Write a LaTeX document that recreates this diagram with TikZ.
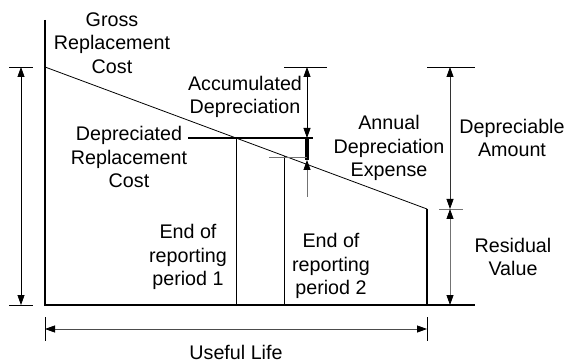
\documentclass[tikz,border=0pt]{standalone}
\usepackage{fontspec}
\setmainfont{Liberation Sans}
\usetikzlibrary{arrows.meta}
\begin{document}
\begin{tikzpicture}[x=1pt,y=-1pt,
  lbl/.style={align=center, font=\fontsize{19.7}{23.5}\selectfont, inner sep=0pt},
  axis/.style={line width=1.8pt},
  thin/.style={line width=0.8pt},
  dimline/.style={line width=0.8pt, {Triangle[length=10pt,width=7pt,color=black]}-{Triangle[length=10pt,width=7pt,color=black]}},
  onehead/.style={line width=0.8pt, -{Triangle[length=10pt,width=7pt,color=black]}},
  ext/.style={line width=0.8pt},
  greyish/.style={draw=black!55}]
\useasboundingbox (0,0) rectangle (567,363);
% key points
\coordinate (top) at (45,20);
\coordinate (O) at (45,305);
\coordinate (xend) at (475,305);
\coordinate (G) at (45,67);
\coordinate (E) at (427,209);
\coordinate (Eb) at (427,305);
\coordinate (P1) at (236,138);
\coordinate (P1b) at (236,305);
\coordinate (P2) at (284,156);
\coordinate (P2b) at (284,305);
\coordinate (HL) at (188,138);
\coordinate (HR) at (313,138);
\coordinate (A1) at (307,67);
\coordinate (A2) at (307,138);
\coordinate (A3) at (307,160);
\coordinate (A4) at (307,197);
\coordinate (AeL) at (284,67);
\coordinate (AeR) at (327,67);
\coordinate (BeL) at (269,157);
\coordinate (BeR) at (307,157);
\coordinate (L1) at (21,67);
\coordinate (L2) at (21,305);
\coordinate (L1a) at (9,67);
\coordinate (L1b) at (33,67);
\coordinate (L2a) at (9,305);
\coordinate (L2b) at (33,305);
\coordinate (U1) at (45,329);
\coordinate (U2) at (427,329);
\coordinate (U1a) at (45,317);
\coordinate (U1b) at (45,341);
\coordinate (U2a) at (427,317);
\coordinate (U2b) at (427,341);
\coordinate (D1) at (450,67);
\coordinate (D2) at (450,209);
\coordinate (D3) at (450,305);
\coordinate (DeL) at (427,67);
\coordinate (DeR) at (475,67);
\coordinate (MeL) at (439,209);
\coordinate (MeR) at (463,209);
% axes
\draw[axis] (top) -- (O) -- (xend);
\draw[thin] (G) -- (E);
\draw[line width=1.6pt] (E) -- (Eb);
\draw[thin] (P1) -- (P1b);
\draw[thin] (P2) -- (P2b);
\draw[line width=2.8pt] (HL) -- (HR);
\draw[line width=4pt] (A2) -- (A3);
% accumulated depreciation
\draw[ext] (AeL) -- (AeR);
\draw[dimline] (A1) -- (A2);
\draw[ext, greyish] (BeL) -- (BeR);
\draw[onehead, greyish] (A4) -- (A3);
% left dimension
\draw[ext] (L1a) -- (L1b);
\draw[ext] (L2a) -- (L2b);
\draw[dimline] (L1) -- (L2);
% useful life
\draw[ext] (U1a) -- (U1b);
\draw[ext] (U2a) -- (U2b);
\draw[dimline, draw=black!70] (U1) -- (U2);
% depreciable amount / residual
\draw[ext] (DeL) -- (DeR);
\draw[ext, greyish] (MeL) -- (MeR);
\draw[dimline, draw=black!80] (D1) -- (D2);
\draw[dimline, draw=black!55] (D2) -- (D3);
% labels
\node[lbl] (grc) at (112,43) {Gross\\Replacement\\Cost};
\node[lbl] (acc) at (245,97) {Accumulated\\Depreciation};
\node[lbl] (drc) at (129,157) {Depreciated\\Replacement\\Cost};
\node[lbl] (ade) at (389,148) {Annual\\Depreciation\\Expense};
\node[lbl] (dam) at (512,138) {Depreciable\\Amount};
\node[lbl] (rv) at (513,257) {Residual\\Value};
\node[lbl] (rp1) at (188,257) {End of\\reporting\\period 1};
\node[lbl] (rp2) at (331,266) {End of\\reporting\\period 2};
\node[lbl] (ul) at (236,352) {Useful Life};
\end{tikzpicture}
\end{document}
